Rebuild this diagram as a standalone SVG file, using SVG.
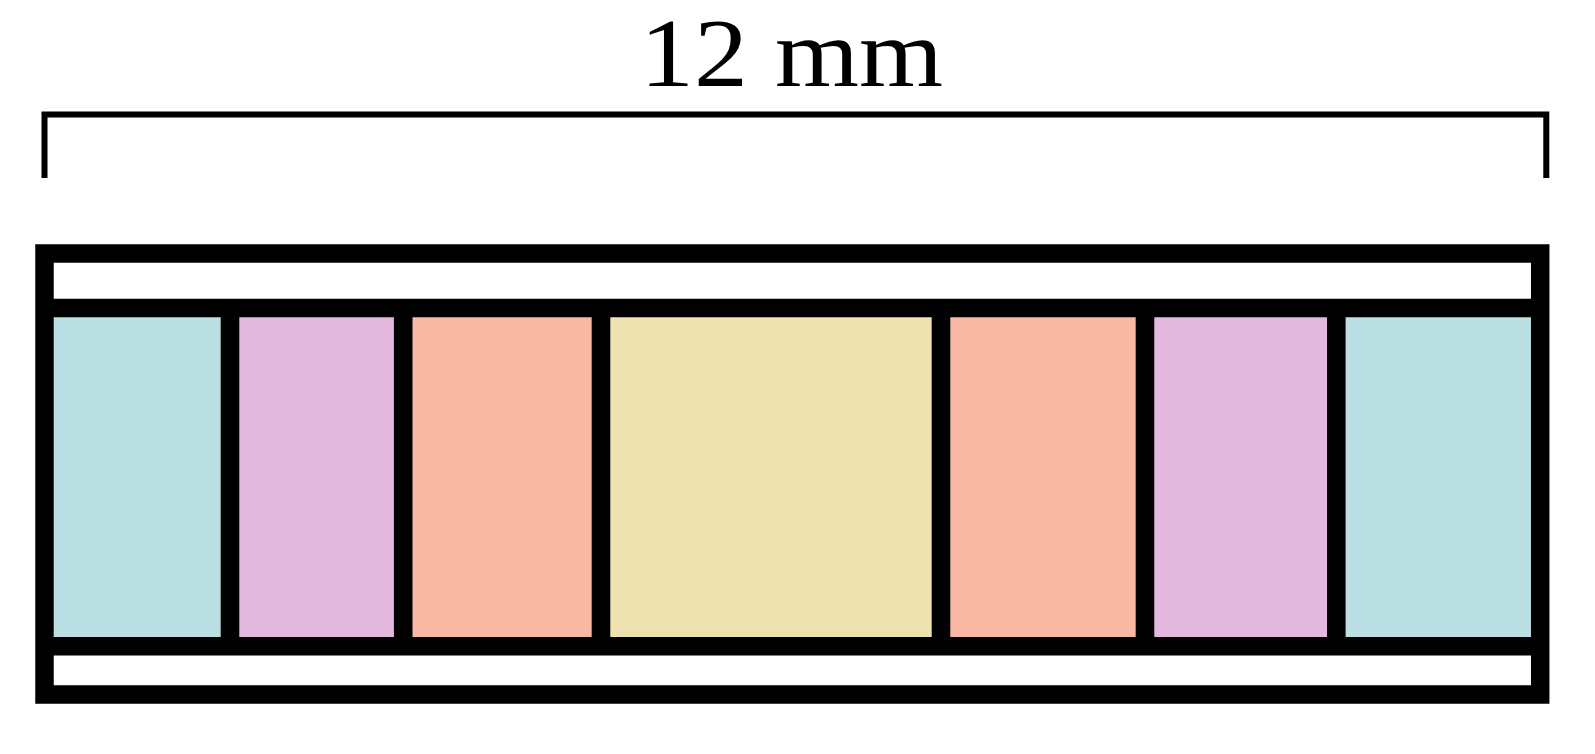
<svg xmlns="http://www.w3.org/2000/svg" width="1595" height="754" viewBox="0 0 1595 754">
<style>
.frame{fill:none;stroke:#000;stroke-width:18.5}
.div{stroke:#000;stroke-width:18.6}
.cyan{fill:#BBE0E3}.pink{fill:#E4B9DF}.salmon{fill:#F9B8A4}.yellow{fill:#EEE2B0}
.lbl{font-family:"Liberation Serif","DejaVu Serif",serif;font-size:97px;fill:#000}
</style>
<rect width="1595" height="754" fill="#fff"/>
<g id="dimension">
<path d="M44.5 178 V114.5 H1546.3 V178" fill="none" stroke="#000" stroke-width="6"/>
<text class="lbl" x="640" y="86" textLength="303" lengthAdjust="spacingAndGlyphs">12 mm</text>
</g>
<g id="cells">
<rect id="c1" class="cyan" x="54" y="317" width="167" height="321"/>
<rect id="c2" class="pink" x="239" y="317" width="155" height="321"/>
<rect id="c3" class="salmon" x="412" y="317" width="180" height="321"/>
<rect id="c4" class="yellow" x="610" y="317" width="322" height="321"/>
<rect id="c5" class="salmon" x="950" y="317" width="186" height="321"/>
<rect id="c6" class="pink" x="1154" y="317" width="173" height="321"/>
<rect id="c7" class="cyan" x="1345" y="317" width="186" height="321"/>
</g>
<g id="lines">
<line class="div" x1="44" y1="308" x2="1540" y2="308"/>
<line class="div" x1="44" y1="646.3" x2="1540" y2="646.3"/>
<line class="div" x1="230" y1="308" x2="230" y2="646"/>
<line class="div" x1="403.2" y1="308" x2="403.2" y2="646"/>
<line class="div" x1="601" y1="308" x2="601" y2="646"/>
<line class="div" x1="941" y1="308" x2="941" y2="646"/>
<line class="div" x1="1145" y1="308" x2="1145" y2="646"/>
<line class="div" x1="1336.3" y1="308" x2="1336.3" y2="646"/>
<rect class="frame" x="44.5" y="253.5" width="1495.7" height="441"/>
</g>
</svg>
